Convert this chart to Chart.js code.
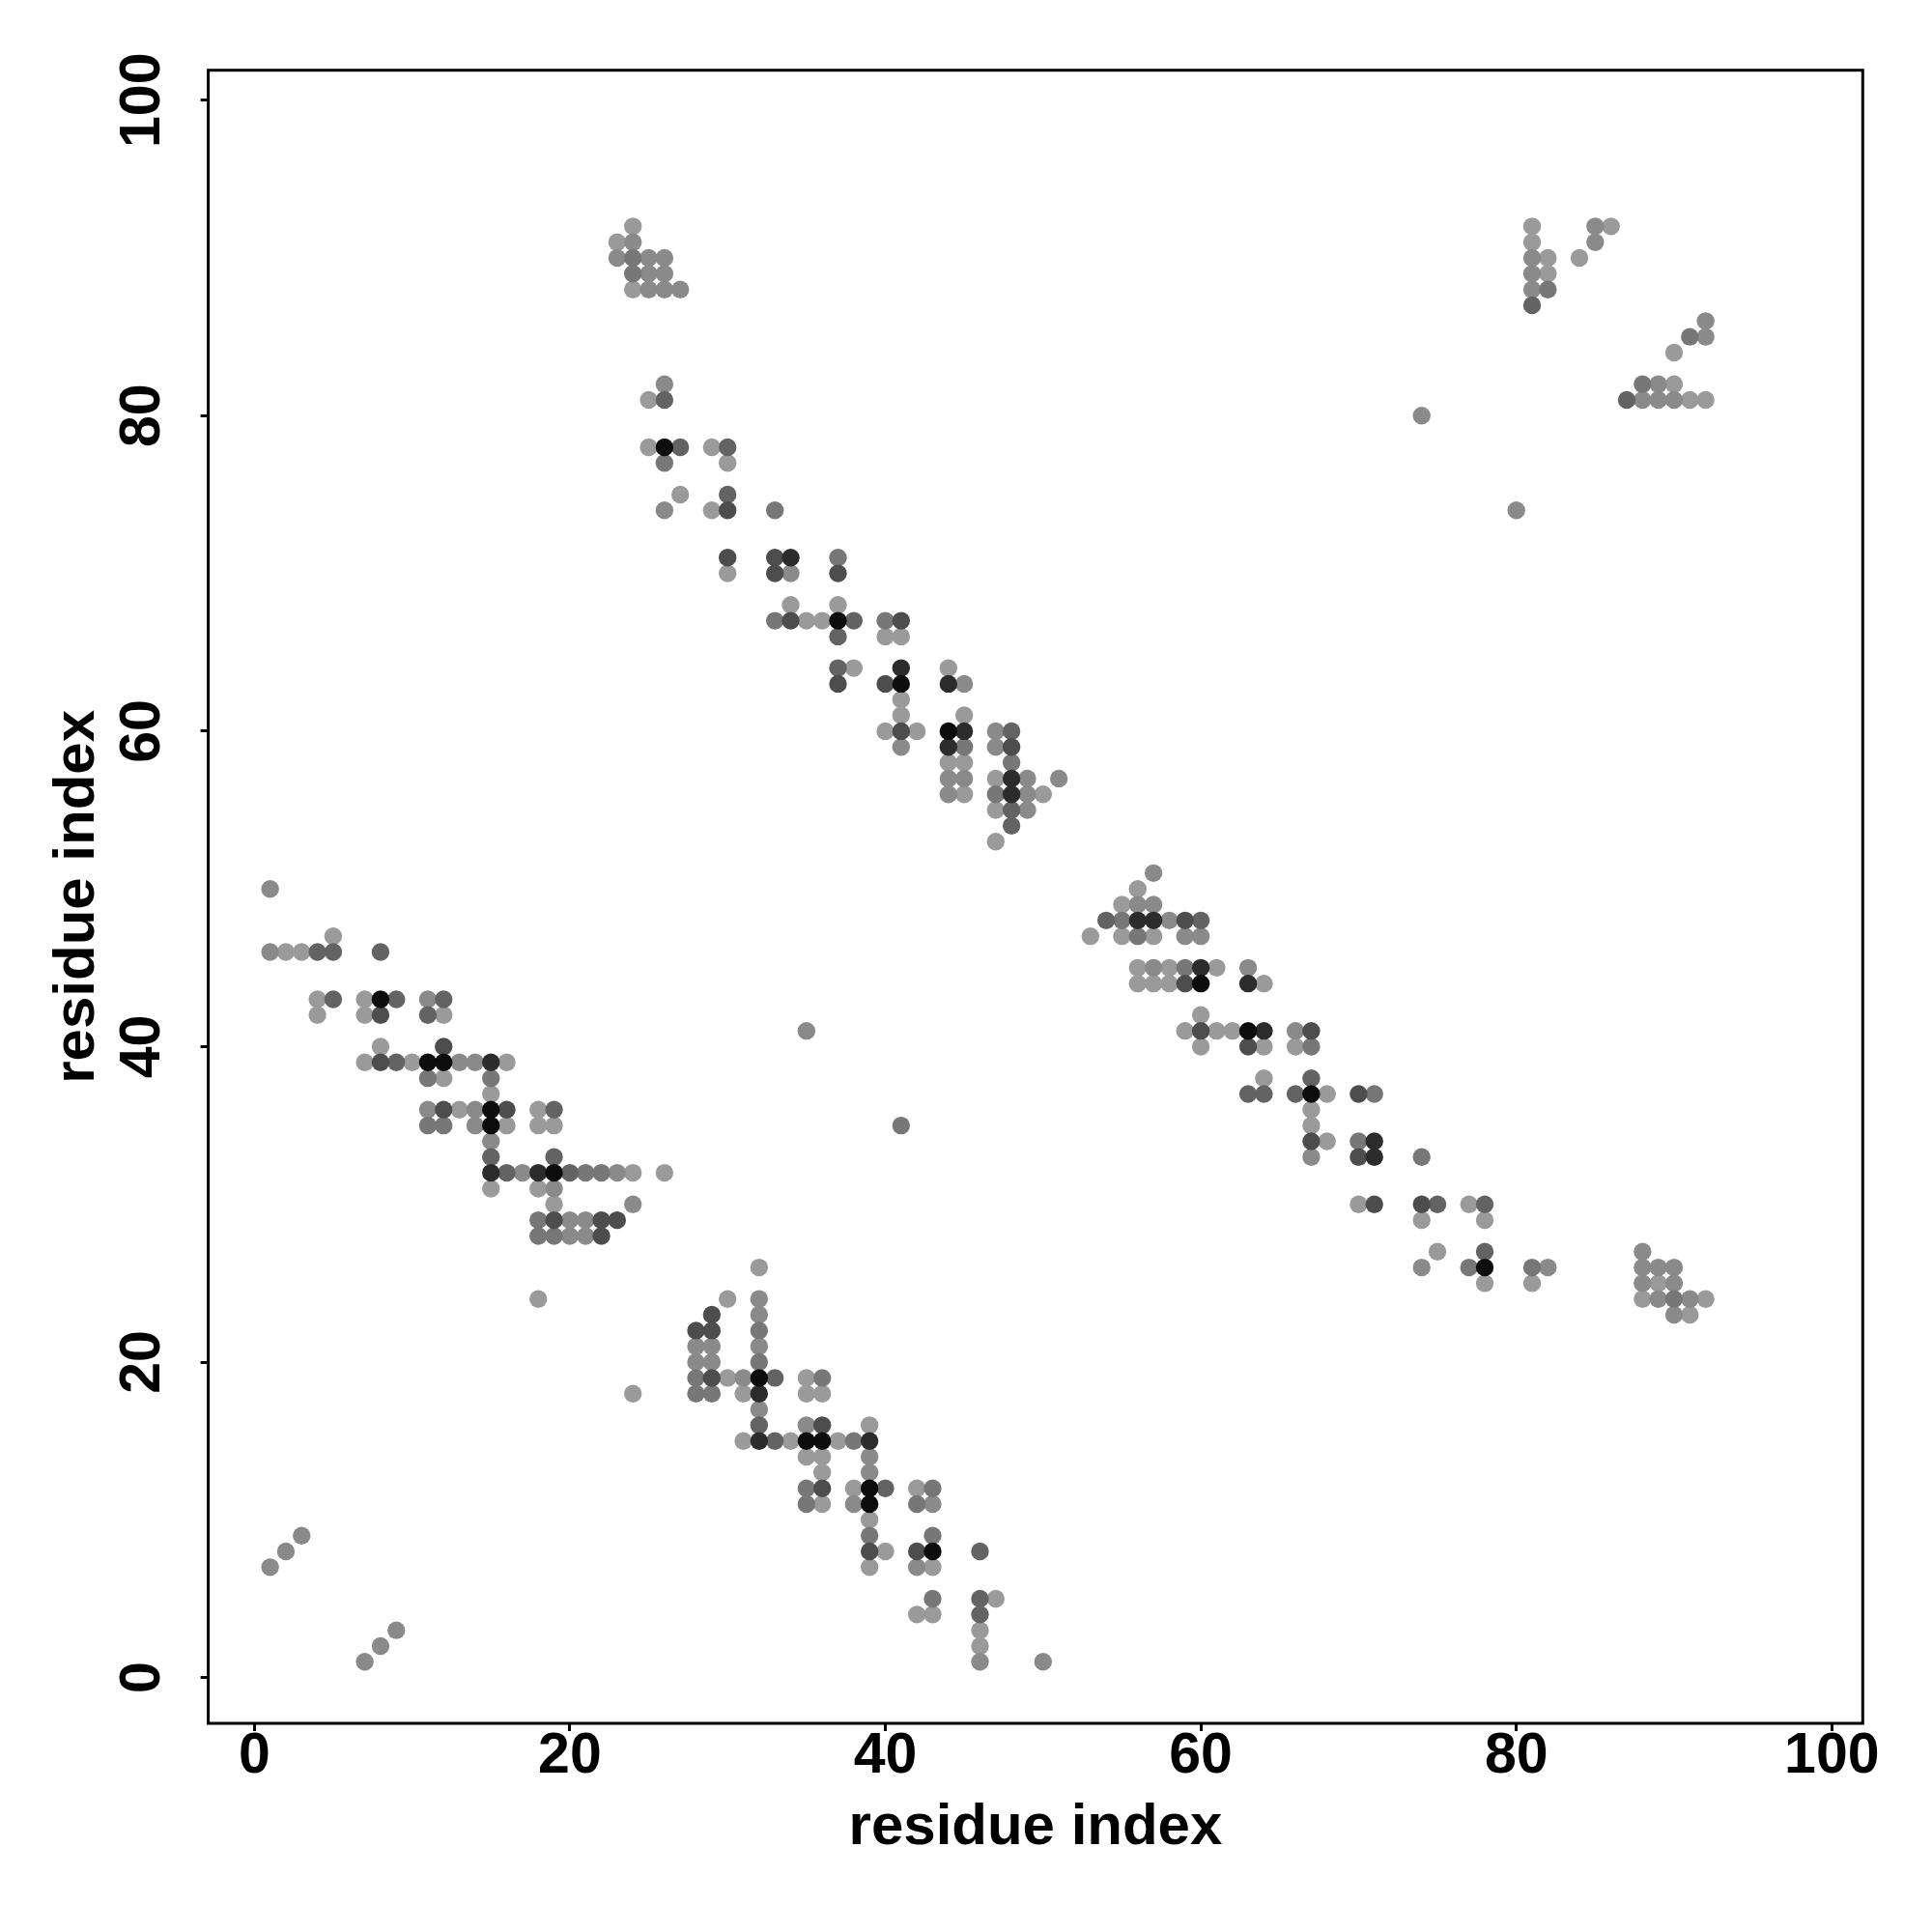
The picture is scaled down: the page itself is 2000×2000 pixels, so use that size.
<!DOCTYPE html>
<html>
<head>
<meta charset="utf-8">
<script src="https://cdn.jsdelivr.net/npm/chart.js@4.4.1/dist/chart.umd.min.js"></script>
<style>
html,body{margin:0;padding:0;background:#fff;}
#wrap{width:2000px;height:2000px;}
</style>
</head>
<body>
<div id="wrap"><canvas id="c" width="2000" height="2000"></canvas></div>
<script>
// ---------- data ----------
const tickValues = [0, 20, 40, 60, 80, 100];
const axisTitle = 'residue index';

// contacts grouped by grey intensity (level1 = lightest ... level7 = black)
const level1 = [[24,92],[23,91],[24,88],
  [25,81],[25,78],[29,78],[30,77],[27,75],[29,74],[30,70],
  [34,68],[35,67],[36,67],
  [37,68],[40,66],[41,66],[38,64],[41,62],[41,61],[40,60],[42,60],[44,64],[45,61],[44,58],[45,58],[45,56],[47,57],[50,56],[47,55],[47,53],
  [56,50],[55,49],[53,47],[55,47],[57,47],[56,45],[58,45],[61,45],[56,44],[57,44],[58,44],[64,44],[60,42],[59,41],[61,41],[62,41],[60,40],[64,40],[66,40],[64,38],[68,37],[67,36],[67,35],[68,34],
  [70,30],[74,29],[77,30],[78,29],[75,27],[78,25],[81,25],[89,25],[88,24],[92,24],[91,23],
  [81,92],[81,91],[82,90],[82,89],[86,92],[84,90],[90,84],[90,82],[91,81],[92,81],
  [5,47],[2,46],[3,46],[4,43],[4,42],[7,43],[7,42],[12,42],[8,40],[7,39],[10,39],[16,39],[12,38],[15,37],[13,36],[18,36],[16,35],[18,35],
  [19,35],[24,32],[26,32],[15,31],[18,31],[19,30],[18,24],
  [32,26],[30,24],[30,19],[31,18],[35,19],[35,18],[36,18],[31,15],[34,15],[37,15],[39,16],[35,14],[36,14],[36,13],[38,12],[36,11],[42,12],
  [39,10],[40,8],[39,7],[43,7],[42,4],[43,4],[47,5],[46,3],[46,2],
  [24,18]];

const level2 = [[23,90],[25,90],[26,90],[25,89],[26,89],[25,88],[26,88],[27,88],[24,91],
  [26,82],[26,74],[34,70],
  [41,59],[45,63],[44,57],[45,57],[44,56],[47,60],[47,59],[49,57],[51,57],[49,56],[49,55],
  [57,51],[56,49],[57,49],[58,48],[59,47],[60,47],[57,45],[63,45],[66,41],[67,33],
  [74,26],[82,26],[88,27],[88,26],[89,26],[90,26],[88,25],[90,25],[89,24],[91,24],[90,23],
  [81,90],[81,89],[81,88],[85,92],[85,91],[92,86],[92,85],[89,82],[88,81],[89,81],[90,81],[74,80],[80,74],
  [1,50],[1,46],[11,43],[13,39],[14,39],[11,36],[14,36],[14,35],[15,34],[17,32],
  [23,32],[19,31],[24,30],[20,29],[21,29],[20,28],[21,28],
  [32,24],[32,23],[28,21],[29,21],[32,21],[28,20],[29,20],[31,19],[32,17],[35,16],[39,14],[39,13],[38,11],
  [43,11],[42,7],[46,1],[50,1],
  [1,7],[2,8],[3,9],[7,1],[8,2],[9,3],[35,41]];

const level3 = [[24,90],[24,89],
  [26,77],[33,74],[37,71],[33,67],
  [40,67],[45,59],[48,58],[47,56],
  [55,48],[56,47],[59,45],[67,40],[71,37],[70,34],[74,33],
  [77,26],[81,26],[90,24],
  [82,88],[91,85],[88,82],
  [11,38],[15,38],[11,35],[12,35],
  [21,32],[22,32],[18,29],[18,28],[19,28],
  [32,22],[32,20],[28,19],[28,18],[29,18],[36,19],[38,15],[35,12],[35,11],
  [43,12],[42,11],[39,9],[43,9],[43,5],
  [41,35]];

const level4 = [[26,81],[27,78],[30,78],[30,75],
  [38,67],[37,66],[37,64],[48,60],[48,55],[48,54],
  [54,48],[60,48],[63,37],[64,37],[66,37],[67,38],
  [75,30],[78,30],[78,27],
  [81,87],[87,81],
  [4,46],[5,46],[8,46],[5,43],[9,43],[12,43],[11,42],[9,39],[15,33],[16,32],
  [19,36],[20,32],[19,33],
  [33,19],[32,16],[33,15],[40,12],
  [46,8],[46,5],[46,4]];

const level5 = [[30,74],[30,71],[33,71],[33,70],[37,70],[34,67],
  [41,67],[37,63],[40,63],[41,60],[48,59],
  [59,48],[59,44],[60,41],[63,40],[67,41],[70,37],[67,34],[70,33],
  [71,30],[74,30],
  [8,42],[8,39],[12,40],[12,36],[16,36],
  [19,29],[22,29],[23,29],[22,28],
  [29,23],[28,22],[29,22],[29,19],[36,16],[36,12],
  [39,8],[42,8]];

const level6 = [[34,71],
  [41,64],[44,63],[45,60],[44,59],[48,57],[48,56],
  [56,48],[57,48],[60,45],[63,44],[64,41],[71,34],[71,33],
  [15,39],[15,32],[18,32],
  [32,18],[32,15],[39,15]];

const level7 = [[26,78],[37,67],[41,63],[44,60],
  [60,44],[63,41],[67,37],[78,26],
  [8,43],[11,39],[12,39],[15,36],[15,35],[19,32],
  [32,19],[35,15],[36,15],[39,12],[39,11],[43,8]];

// ---------- styles ----------
const levels = [level1, level2, level3, level4, level5, level6, level7];
const levelColors = ['#9a9a9a', '#8a8a8a', '#777777', '#636363', '#4d4d4d', '#2c2c2c', '#0d0d0d'];
const FONT = '"Liberation Sans", Arial, Helvetica, sans-serif';

// darkest first so they are drawn on top
const datasets = [];
for (let i = levels.length - 1; i >= 0; i--) {
  datasets.push({
    label: 'level' + (i + 1),
    data: levels[i].map(p => ({x: p[0], y: p[1]})),
    backgroundColor: levelColors[i],
    borderWidth: 0,
    pointRadius: 9.2,
    pointHoverRadius: 9.2
  });
}

const framePlugin = {
  id: 'frame',
  afterDatasetsDraw(chart) {
    const {ctx, chartArea: a} = chart;
    ctx.save();
    ctx.strokeStyle = '#000';
    ctx.lineWidth = 3;
    ctx.strokeRect(a.left, a.top, a.right - a.left, a.bottom - a.top);
    ctx.restore();
  }
};

function setTicks(scale) { scale.ticks = tickValues.map(v => ({value: v})); }

new Chart(document.getElementById('c'), {
  type: 'scatter',
  data: {datasets},
  options: {
    responsive: false,
    animation: false,
    events: [],
    layout: {padding: {top: 72.7, right: 71.7, left: 0, bottom: 0}},
    plugins: {legend: {display: false}, tooltip: {enabled: false}},
    scales: {
      x: {
        type: 'linear', min: -2.92, max: 101.96,
        afterBuildTicks: setTicks,
        afterFit: s => { s.height = 216; },
        border: {display: false},
        grid: {drawOnChartArea: false, drawTicks: true, tickLength: 8, color: '#000', lineWidth: 3},
        ticks: {autoSkip: false, maxRotation: 0, minRotation: 0, padding: -3, color: '#000',
                font: {family: FONT, size: 59, weight: 'bold', lineHeight: 1}},
        title: {display: true, text: axisTitle, color: '#000', padding: {top: 0, bottom: 72},
                font: {family: FONT, size: 60, weight: 'bold'}}
      },
      y: {
        type: 'linear', min: -2.9, max: 101.9,
        afterBuildTicks: setTicks,
        afterFit: s => { s.width = 215.6; },
        border: {display: false},
        grid: {drawOnChartArea: false, drawTicks: true, tickLength: 8, color: '#000', lineWidth: 3},
        ticks: {autoSkip: false, minRotation: 90, maxRotation: 90, crossAlign: 'center', padding: 9.8, color: '#000',
                font: {family: FONT, size: 59, weight: 'bold', lineHeight: 1}},
        title: {display: true, text: axisTitle, color: '#000', padding: {top: 44, bottom: 0},
                font: {family: FONT, size: 60, weight: 'bold'}}
      }
    }
  },
  plugins: [framePlugin]
});
</script>
</body>
</html>
